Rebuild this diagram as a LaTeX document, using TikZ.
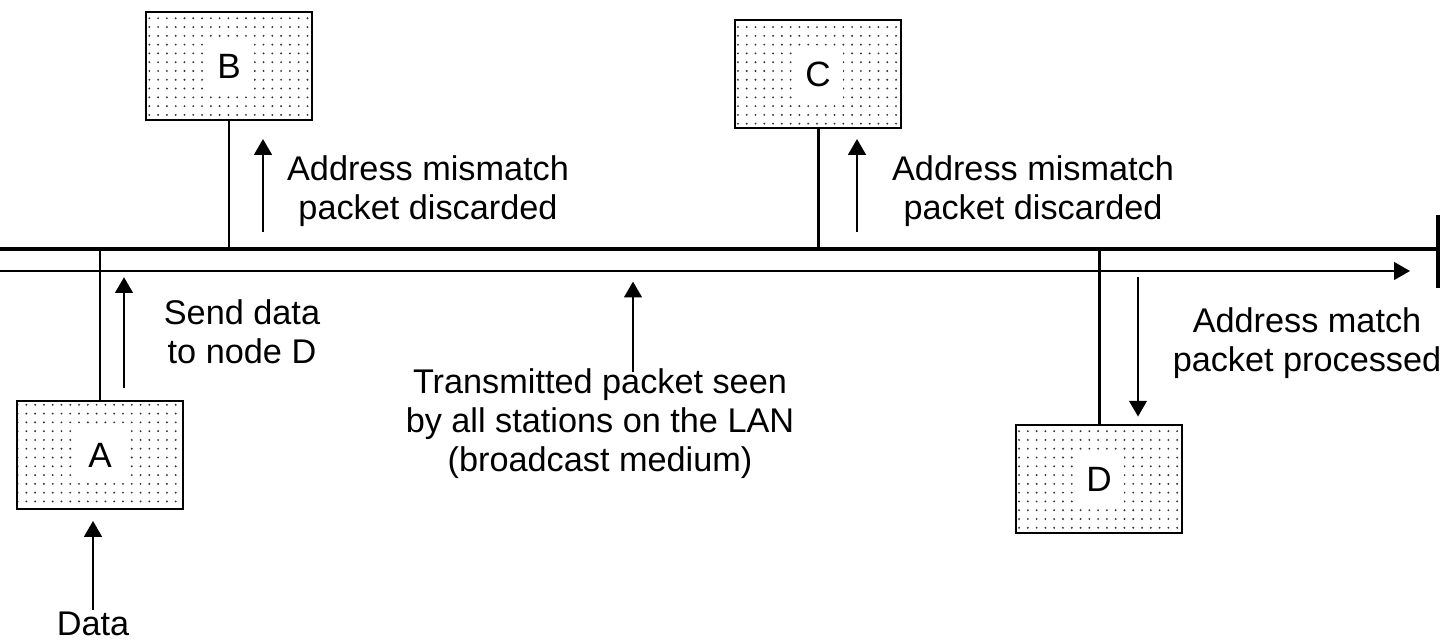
\documentclass[tikz,border=0pt]{standalone}
\usepackage{fontspec}
\setmainfont{Liberation Sans}
\usetikzlibrary{arrows.meta,patterns.meta}

\begin{document}
\begin{tikzpicture}[x=0.02cm, y=-0.02cm, >={Triangle[width=10pt,length=9pt]},
        station/.style={rectangle, draw, line width=1.6pt, minimum width=3.32cm, minimum height=2.16cm,
            pattern={Dots[distance=5pt, radius=0.6pt]}, pattern color=black!80},
        tag/.style={fill=white, minimum width=1cm, minimum height=1.05cm, inner sep=0pt, font=\fontsize{20}{22}\selectfont},
        lbl/.style={align=center, font=\fontsize{19.5}{22.2}\selectfont},
        tap/.style={line width=1.7pt},
        sig/.style={->, line width=1.4pt}
    ]
    \useasboundingbox (0,0) rectangle (1452,642);

    % LAN bus
    \coordinate (busL) at (0,249);
    \coordinate (busR) at (1438,249);
    \draw[line width=2.2pt] (busL) -- (busR);
    \draw[line width=1.8pt] (1438,215) -- (1438,288);
    \coordinate (flowL) at (0,271);
    \coordinate (flowR) at (1410,271);
    \draw[->, line width=1.1pt] (flowL) -- (flowR);

    % Station A
    \node[station] (A) at (100,455) {};
    \node[tag] at (A) {A};
    \draw[tap] (A.north) -- (A.north |- busL);
    \coordinate (sendT) at (124,388);
    \draw[sig] (sendT) -- ([yshift=-3.5pt]sendT |- flowL);
    \node[lbl] (sendTxt) at (242,332) {Send data\\to node D};
    \coordinate (dataT) at (93,610);
    \draw[sig] (dataT) -- ([yshift=-6pt]dataT |- A.south);
    \node[lbl] (dataTxt) at (93,624) {Data};

    % Station B
    \node[station] (B) at (229,66) {};
    \node[tag] at (B) {B};
    \draw[tap] (B.south) -- (B.south |- busL);
    \coordinate (bT) at (263,232);
    \draw[sig] (bT) -- (263,139);
    \node[lbl] (bTxt) at (428,191) {Address mismatch\\packet discarded};

    % Broadcast
    \coordinate (midT) at (633,372);
    \draw[sig] (midT) -- ([yshift=-6pt]midT |- flowL);
    \node[lbl] (midTxt) at (600,424) {Transmitted packet seen\\by all stations on the LAN\\(broadcast medium)};

    % Station C
    \node[station] (C) at (818,74) {};
    \node[tag] at (C) {C};
    \draw[tap] (C.south) -- (C.south |- busL);
    \coordinate (cT) at (857,232);
    \draw[sig] (cT) -- (857,139);
    \node[lbl] (cTxt) at (1033,191) {Address mismatch\\packet discarded};

    % Station D
    \node[station] (D) at (1099,479) {};
    \node[tag] at (D) {D};
    \draw[tap] (D.north) -- (D.north |- busL);
    \coordinate (dT) at (1138,277);
    \draw[sig] (dT) -- ([yshift=4pt]dT |- D.north);
    \node[lbl] (dTxt) at (1307,343) {Address match\\packet processed};
\end{tikzpicture}
\end{document}
